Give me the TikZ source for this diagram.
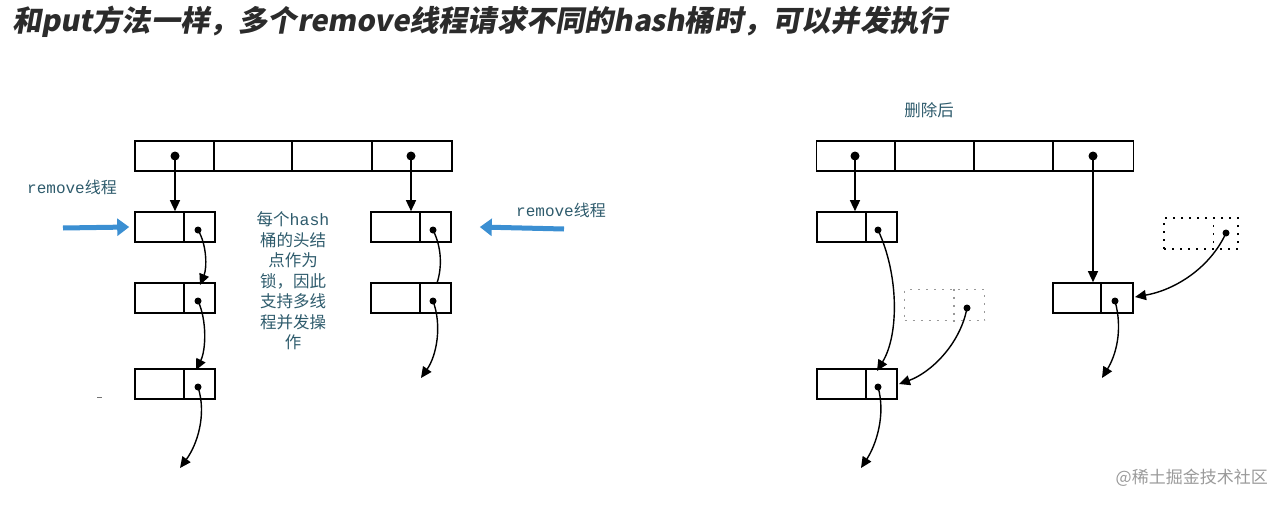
\documentclass[tikz,border=0pt]{standalone}
\usepackage{fontspec}
\setmainfont{Liberation Sans}
\newfontfamily\cjk{Noto Sans CJK SC}
\newfontfamily\cjktitle[FakeSlant=0.18]{Noto Sans CJK SC}
\newfontfamily\monof{Liberation Mono}
\usetikzlibrary{arrows.meta}
\definecolor{titlegray}{HTML}{2B2B2B}
\definecolor{teal}{HTML}{2E5B6C}
\definecolor{bluearrow}{HTML}{3B8FD2}
\definecolor{wm}{HTML}{9A9A9A}
\tikzset{
  cell/.style={draw, line width=1.6pt, minimum width=80pt, minimum height=30pt, inner sep=0pt},
  gonedash/.style={dash pattern=on 2pt off 6pt, line width=1.4pt},
  gone/.style={draw, gonedash, minimum width=80pt, minimum height=31pt, inner sep=0pt},
  arr/.style={draw, line width=1.6pt, minimum width=317pt, minimum height=30pt, inner sep=0pt},
  ptr/.style={line width=1.4pt, -{Triangle[length=11pt,width=10pt]}},
  bare/.style={line width=1.4pt},
  dot/.style={circle, fill, inner sep=0pt, minimum size=9pt},
  sdot/.style={circle, fill, inner sep=0pt, minimum size=7pt},
  thread/.style={line width=5pt, bluearrow, -{Triangle[length=12pt,width=17pt]}},
  lbl/.style={text=teal, font=\fontsize{15}{17}\selectfont, inner sep=0pt}
}
\begin{document}
\begin{tikzpicture}[x=1pt,y=-1pt]
\useasboundingbox (0,0) rectangle (1282,506);
% title
\node[anchor=west, inner sep=0pt, text=titlegray, font=\cjktitle\bfseries\fontsize{29.2}{31}\selectfont] (title) at (12,22) {和put方法一样，多个remove线程请求不同的hash桶时，可以并发执行};

% ---------- left diagram ----------
\node[arr] (ta) at (293.5,156) {};
\foreach \x in {80,158,238} \draw[line width=1.6pt] ([xshift=\x]ta.north west) -- ([xshift=\x]ta.south west);
\node[dot] (ta1) at (175,156) {};
\node[dot] (ta4) at (411,156) {};

\node[cell] (a1) at (175,227) {};
\node[cell] (a2) at (175,298) {};
\node[cell] (a3) at (175,384) {};
\node[cell] (b1) at (411,227) {};
\node[cell] (b2) at (411,298) {};
\foreach \n in {a1,a2,a3,b1,b2} \draw[line width=1.6pt] ([xshift=50]\n.north west) -- ([xshift=50]\n.south west);

\node[sdot] (a1d) at (198,230) {};
\node[sdot] (a2d) at (198,301) {};
\node[sdot] (a3d) at (198,387) {};
\node[sdot] (b1d) at (433,230) {};
\node[sdot] (b2d) at (433,301) {};

\draw[ptr] (ta1.center) -- (ta1.center |- a1.north);
\draw[ptr] (ta4.center) -- (ta4.center |- b1.north);
\coordinate (a2in) at (200,285);
\coordinate (a3in) at (196,370);
\coordinate (aend) at (180,468);
\coordinate (b2in) at (437,283);
\coordinate (bend) at (421,378);
\draw[ptr] (a1d.center) .. controls (207,245) and (207,268) .. (a2in);
\draw[ptr] (a2d.center) .. controls (207,320) and (206,350) .. (a3in);
\draw[ptr] (a3d.center) .. controls (207,415) and (197,445) .. (aend);
\draw[bare] (b1d.center) .. controls (442,248) and (442,268) .. (b2in);
\draw[ptr] (b2d.center) .. controls (442,325) and (437,355) .. (bend);

% thread arrows
\coordinate (t1s) at (63,228);
\draw[thread] (t1s) -- ([xshift=-5]a1.west);
\coordinate (t2s) at (564,229);
\draw[thread] (t2s) -- ([xshift=28]b1.east);
\node[lbl, anchor=west, font=\fontsize{16}{18}\selectfont] (th1) at (27,187) {\monof remove\cjk 线程};
\node[lbl, anchor=west, font=\fontsize{16}{18}\selectfont] (th2) at (516,210) {\monof remove\cjk 线程};

\node[lbl, align=center, font=\cjk\fontsize{16.5}{20.5}\selectfont] (note) at (293,281)
  {每个{\monof hash}\\桶的头结\\点作为\\锁，因此\\支持多线\\程并发操\\作};

\draw[line width=1pt, black!55] (97,397) -- (102,397);

% ---------- right diagram ----------
\node[lbl, font=\cjk\fontsize{16.5}{18}\selectfont] (after) at (929,110) {删除后};
\node[arr] (tb) at (975,156) {};
\foreach \x in {79,158,237} \draw[line width=1.6pt] ([xshift=\x]tb.north west) -- ([xshift=\x]tb.south west);
\node[dot] (tb1) at (855,156) {};
\node[dot] (tb4) at (1093,156) {};

\node[cell] (c1) at (857,227) {};
\node[cell] (c3) at (857,384) {};
\node[cell] (d2) at (1093,298) {};
\foreach \n in {c1,c3} \draw[line width=1.6pt] ([xshift=50]\n.north west) -- ([xshift=50]\n.south west);
\draw[line width=1.6pt] ([xshift=49]d2.north west) -- ([xshift=49]d2.south west);

\node[gone, black!40] (c2) at (944.5,305) {};
\draw[gonedash, black!40] ([xshift=50]c2.north west) -- ([xshift=50]c2.south west);
\node[gone, minimum width=74pt] (d1) at (1201,233.5) {};
\draw[gonedash] ([xshift=50]d1.north west) -- ([xshift=50]d1.south west);

\node[sdot] (c1d) at (878,230) {};
\node[sdot] (c2d) at (967,308) {};
\node[sdot] (c3d) at (878,387) {};
\node[sdot] (d1d) at (1226,233) {};
\node[sdot] (d2d) at (1115,301) {};

\draw[ptr] (tb1.center) -- (tb1.center |- c1.north);
\draw[ptr] (tb4.center) -- (tb4.center |- d2.north);
\coordinate (c3in) at (877,371);
\coordinate (c3side) at (899,384);
\coordinate (cend) at (861,468);
\coordinate (d2side) at (1135,297);
\coordinate (dend) at (1102,378);
\draw[ptr] (c1d.center) .. controls (899,275) and (899,335) .. (c3in);
\draw[ptr] (c2d.center) .. controls (960,345) and (930,373) .. (c3side);
\draw[ptr] (c3d.center) .. controls (886,415) and (876,445) .. (cend);
\draw[ptr] (d1d.center) .. controls (1210,268) and (1175,290) .. (d2side);
\draw[ptr] (d2d.center) .. controls (1123,330) and (1116,355) .. (dend);

% watermark
\node[anchor=east, inner sep=0pt, text=wm, font=\cjk\fontsize{17}{19}\selectfont] (wmk) at (1268,478) {@稀土掘金技术社区};
\end{tikzpicture}
\end{document}
